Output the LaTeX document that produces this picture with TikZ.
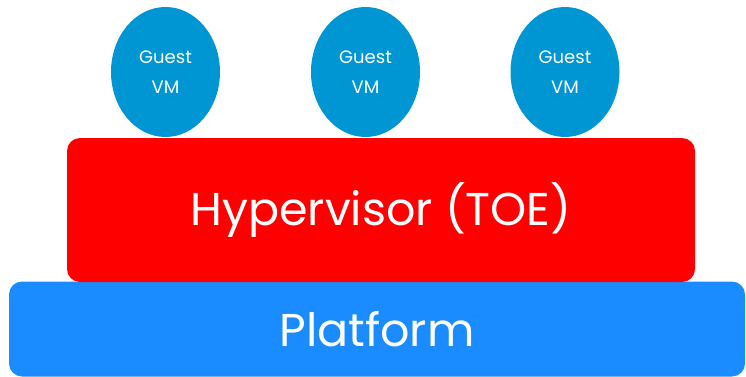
\documentclass[tikz,border=0pt]{standalone}
\usepackage{fontspec}
\setmainfont{Poppins}
\usetikzlibrary{shapes.geometric}
\definecolor{platform blue}{HTML}{1A8CFF}
\definecolor{hyper red}{HTML}{FF0000}
\definecolor{guest blue}{HTML}{0095D3}
\tikzset{
  layer/.style={rounded corners=13pt, text=white, inner sep=0pt,
    font=\fontsize{46}{46}\selectfont},
  guest/.style={ellipse, fill=guest blue, text=white, inner sep=0pt,
    minimum width=109pt, minimum height=130pt, align=center,
    font=\fontsize{18}{30}\selectfont}
}

\begin{document}
\begin{tikzpicture}[x=1pt, y=-1pt]
    \useasboundingbox (0,0) rectangle (746,377);
    \node[layer, fill=platform blue, minimum width=736pt, minimum height=95pt]
      (platform) at (377,329) {Platform};
    \node[layer, fill=hyper red, minimum width=628pt, minimum height=144pt]
      (hyper) at (381,210) {Hypervisor (TOE)};
    \node[guest] (vm1) at (165.5,72) {Guest\\VM};
    \node[guest] (vm2) at (365.5,72) {Guest\\VM};
    \node[guest] (vm3) at (565,72) {Guest\\VM};
  \end{tikzpicture}
\end{document}
